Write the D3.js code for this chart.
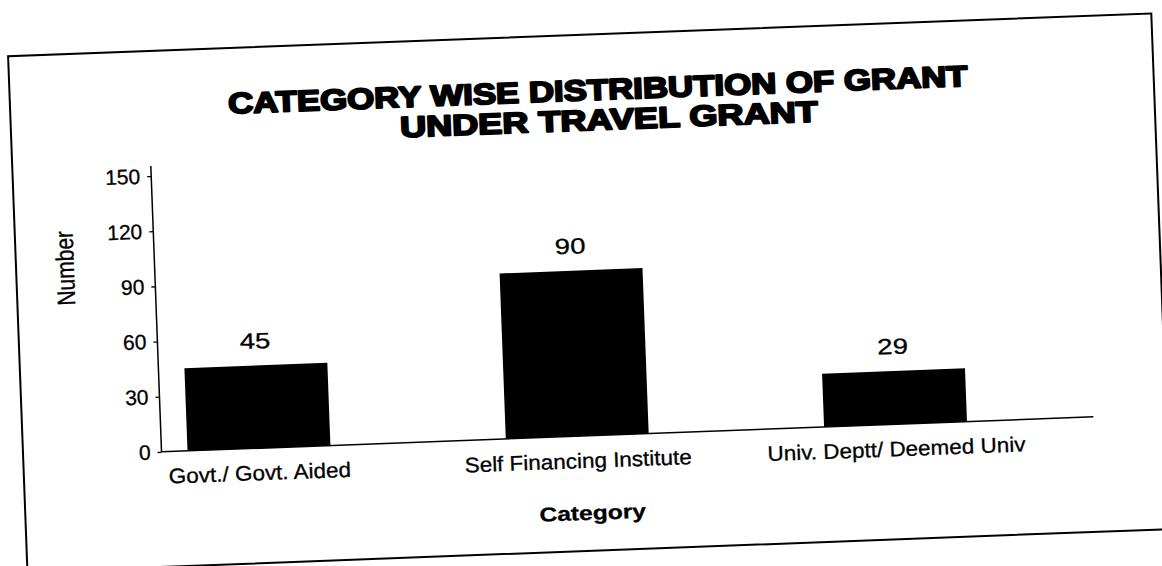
<!DOCTYPE html>
<html>
<head>
<meta charset="utf-8">
<script src="https://cdn.jsdelivr.net/npm/d3@7"></script>
<style>
  html, body { margin: 0; padding: 0; background: #fff; overflow: hidden; }
  text { font-family: "Liberation Sans", Arial, sans-serif; fill: #000; }
</style>
</head>
<body>
<div id="chart"></div>
<script>
// data
const categories = ["Govt./ Govt. Aided", "Self Financing Institute", "Univ. Deptt/ Deemed Univ"];
const grants = [45, 90, 29];
const yTicks = [0, 30, 60, 90, 120, 150];
const titleLines = ["CATEGORY WISE DISTRIBUTION OF GRANT", "UNDER TRAVEL GRANT"];
const xTitle = "Category";
const yTitle = "Number";

const W = 1162, H = 566;

const svg = d3.select("#chart")
  .append("svg")
    .attr("width", W)
    .attr("height", H);

// the scan is tilted a bit, so everything goes in one rotated group
const g = svg.append("g")
  .attr("transform", "rotate(-2.15,581,283)");

// outer frame
g.append("rect")
  .attr("x", 17).attr("y", 35)
  .attr("width", 1144).attr("height", 516)
  .attr("fill", "none")
  .attr("stroke", "#000")
  .attr("stroke-width", 2);

// scales
const x = d3.scalePoint()
  .domain(categories)
  .range([253, 890]);

const y = d3.scaleLinear()
  .domain([0, 150])
  .range([436, 160]);

const barW = 143;
const axisX = 155.5;

// bars
g.selectAll("rect.bar")
  .data(categories)
  .enter().append("rect")
    .attr("class", "bar")
    .attr("x", d => x(d) - barW / 2)
    .attr("y", (d, i) => y(grants[i]))
    .attr("width", barW)
    .attr("height", (d, i) => y(0) - y(grants[i]))
    .attr("fill", "#000");

// value labels (the scan's text is stretched sideways)
g.selectAll("g.vlab")
  .data(categories)
  .enter().append("g")
    .attr("class", "vlab")
    .attr("transform", (d, i) => `translate(${x(d)},${y(grants[i]) - 17}) scale(1.25,1)`)
  .append("text")
    .attr("text-anchor", "middle")
    .attr("font-size", "22px")
    .attr("stroke", "#000")
    .attr("stroke-width", 0.3)
    .text((d, i) => grants[i]);

// y axis
const yAxis = g.append("g")
  .attr("transform", `translate(${axisX},0)`)
  .call(d3.axisLeft(y).tickValues(yTicks).tickSize(4).tickPadding(7));
yAxis.select(".domain").remove();
yAxis.selectAll(".tick line").attr("stroke", "#000").attr("stroke-width", 1.3);
yAxis.selectAll(".tick text")
  .attr("font-size", "21px")
  .attr("font-family", "Liberation Sans, Arial, sans-serif")
  .attr("fill", "#000")
  .attr("stroke", "#000")
  .attr("stroke-width", 0.3);

g.append("line")
  .attr("x1", axisX).attr("x2", axisX)
  .attr("y1", y(0)).attr("y2", y(150) - 10)
  .attr("stroke", "#000").attr("stroke-width", 1.5);

// x axis line
g.append("line")
  .attr("x1", axisX).attr("x2", 1088)
  .attr("y1", y(0)).attr("y2", y(0))
  .attr("stroke", "#000").attr("stroke-width", 1.5);

// category labels
g.selectAll("g.clab")
  .data(categories)
  .enter().append("g")
    .attr("class", "clab")
    .attr("transform", d => `translate(${x(d)},468) scale(1.07,1)`)
  .append("text")
    .attr("text-anchor", "middle")
    .attr("font-size", "21px")
    .attr("stroke", "#000")
    .attr("stroke-width", 0.3)
    .text(d => d);

// axis titles
g.append("g")
  .attr("transform", "translate(584,520) scale(1.23,1)")
  .append("text")
    .attr("text-anchor", "middle")
    .attr("font-size", "20px")
    .attr("font-weight", "bold")
    .attr("stroke", "#000")
    .attr("stroke-width", 0.3)
    .text(xTitle);

g.append("g")
  .attr("transform", "translate(66,249) rotate(-90) scale(1,1.2)")
  .append("text")
    .attr("text-anchor", "middle")
    .attr("dy", "0.35em")
    .attr("font-size", "21px")
    .attr("stroke", "#000")
    .attr("stroke-width", 0.3)
    .text(yTitle);

// title, heavy like Arial Black
const titleWidths = [740, 418];
const titleX = [605, 615];
g.selectAll("text.title")
  .data(titleLines)
  .enter().append("text")
    .attr("class", "title")
    .attr("x", (d, i) => titleX[i])
    .attr("y", (d, i) => 100.5 + i * 30)
    .attr("text-anchor", "middle")
    .attr("font-size", "29px")
    .attr("font-weight", "bold")
    .attr("stroke", "#000")
    .attr("stroke-width", 2)
    .attr("stroke-linejoin", "round")
    .attr("textLength", (d, i) => titleWidths[i])
    .attr("lengthAdjust", "spacingAndGlyphs")
    .text(d => d);
</script>
</body>
</html>
